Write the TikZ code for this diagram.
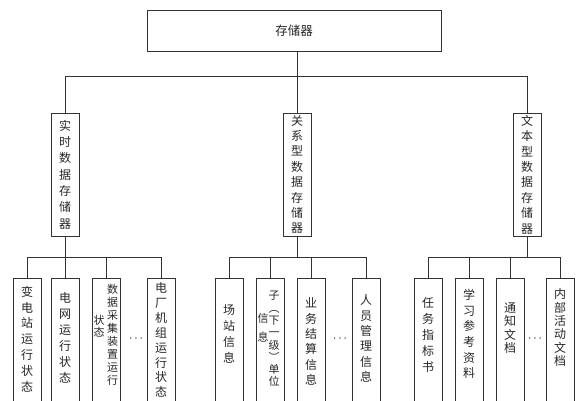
\documentclass[tikz,border=0pt]{standalone}
\usepackage{fontspec}
\newfontfamily\cjk{Noto Sans CJK SC}

\begin{document}
\begin{tikzpicture}[x=1pt,y=-1pt,
  line width=0.8pt, draw=black!80,
  box/.style={draw=black!80, inner sep=0pt},
  topbox/.style={box, minimum width=294pt, minimum height=41pt, text=black!85, font=\cjk\fontsize{12.5}{14}\selectfont},
  midbox/.style={box, minimum width=28pt, minimum height=123pt, align=center, text=black!85, font=\cjk\fontsize{12}{#1}\selectfont},
  midbox/.default=16.3,
  leafbox/.style={box, minimum width=28pt, minimum height=126pt, anchor=north},
  vtext/.style={align=center, inner sep=0pt, text=black!85, font=\cjk\fontsize{12}{#1}\selectfont},
  vtext/.default=15.5,
  ntext/.style={vtext=#1, font=\cjk\fontsize{11}{#1}\selectfont},
  more/.style={inner sep=0pt, text=black, font=\bfseries\fontsize{13}{13}\selectfont}]
\clip (0,0) rectangle (578,400);
% top level
\node[topbox] (store) at (294,30.5) {存储器};
% second level
\node[midbox] (rt) at (65,174.5) {实\\时\\数\\据\\存\\储\\器};
\node[midbox=15.4] (gx) at (297,174.5) {关\\系\\型\\数\\据\\存\\储\\器};
\node[midbox=15.4] (wb) at (527,174.5) {文\\本\\型\\数\\据\\存\\储\\器};
\draw (gx.north) -- (gx.north |- store.south);
\draw (rt.north) -- ++(0,-36) -| (wb.north);
% real-time group
\node[leafbox] (l11) at (27,278) {};
\node[leafbox] (l12) at (65,278) {};
\node[leafbox] (l13) at (106,278) {};
\node[leafbox] (l14) at (161,278) {};
\node[vtext=15.8] (t11) at (27,339) {变\\电\\站\\运\\行\\状\\态};
\node[vtext=16] (t12) at (65,337.5) {电\\网\\运\\行\\状\\态};
\node[ntext=13] (t13) at (112.5,334.5) {数\\据\\采\\集\\装\\置\\运\\行};
\node[ntext=12] (t13b) at (99,326) {状\\态};
\node[vtext=14.9] (t14) at (161,340) {电\\厂\\机\\组\\运\\行\\状\\态};
\node[more] (m1) at (136,339) {$\cdots$};
\draw (rt.south) -- (l12.north);
\draw (l11.north) -- ++(0,-21) -| (l14.north);
\draw (l13.north) -- ++(0,-21);
% relational group
\node[leafbox] (l21) at (229,278) {};
\node[leafbox] (l22) at (270,278) {};
\node[leafbox] (l23) at (311,278) {};
\node[leafbox] (l24) at (366,278) {};
\node[vtext=16] (t21) at (229,334) {场\\站\\信\\息};
\node[ntext=12.3] (t22) at (274,339) {子\\︵\\下\\一\\级\\︶\\单\\位};
\node[ntext=19] (t22b) at (263,327.5) {信\\息};
\node[vtext=15.4] (t23) at (311,341.5) {业\\务\\结\\算\\信\\息};
\node[vtext=15.4] (t24) at (366,338.5) {人\\员\\管\\理\\信\\息};
\node[more] (m2) at (340,339) {$\cdots$};
\draw (gx.south) -- ++(0,21);
\draw (l21.north) -- ++(0,-21) -| (l24.north);
\draw (l22.north) -- ++(0,-21);
\draw (l23.north) -- ++(0,-21);
% text group
\node[leafbox] (l31) at (428,278) {};
\node[leafbox] (l32) at (469,278) {};
\node[leafbox] (l33) at (510,278) {};
\node[leafbox] (l34) at (560,278) {};
\node[vtext=16] (t31) at (428,335) {任\\务\\指\\标\\书};
\node[vtext=15.6] (t32) at (469,334) {学\\习\\参\\考\\资\\料};
\node[vtext=13.3] (t33) at (510,328) {通\\知\\文\\档};
\node[vtext=13.3] (t34) at (560,327.5) {内\\部\\活\\动\\文\\档};
\node[more] (m3) at (535,339) {$\cdots$};
\draw (wb.south) -- ++(0,21);
\draw (l31.north) -- ++(0,-21) -| (l34.north);
\draw (l32.north) -- ++(0,-21);
\draw (l33.north) -- ++(0,-21);
\end{tikzpicture}
\end{document}
